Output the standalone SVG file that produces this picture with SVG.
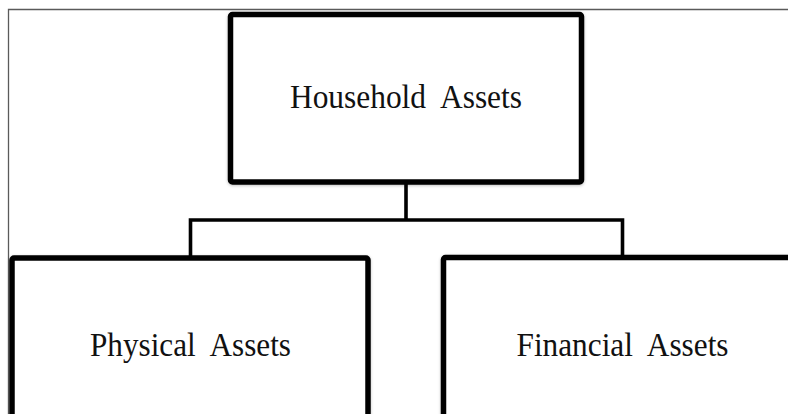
<svg xmlns="http://www.w3.org/2000/svg" width="788" height="414" viewBox="0 0 788 414">
<style>
.frame{fill:none;stroke:#5a5a5a;stroke-width:1.3}
.box{fill:#ffffff;stroke:#000000;stroke-width:5.5;stroke-linejoin:round;filter:url(#sh)}
.conn{fill:none;stroke:#000000;stroke-width:3.6;stroke-linejoin:miter}
.lbl{font-family:"Liberation Serif","Times New Roman",serif;font-size:34px;fill:#111111}
</style>
<defs>
<filter id="sh" x="-5%" y="-5%" width="110%" height="110%">
<feDropShadow dx="0" dy="1" stdDeviation="1.5" flood-color="#000000" flood-opacity="0.25"/>
</filter>
</defs>
<rect width="788" height="414" fill="#ffffff"/>
<path class="frame" d="M8.5,414 V9.5 H788"/>
<g id="connectors">
<path class="conn" d="M406,184 V220 M190.5,257 V220 H622.5 V257"/>
</g>
<g id="household">
<rect class="box" x="230.5" y="14.5" width="351" height="167.5" rx="2"/>
<text class="lbl" x="290" y="108.3" textLength="232" lengthAdjust="spacingAndGlyphs" xml:space="preserve">Household  Assets</text>
</g>
<g id="physical">
<rect class="box" x="12" y="258" width="356" height="180" rx="2"/>
<text class="lbl" x="90" y="356" textLength="201" lengthAdjust="spacingAndGlyphs" xml:space="preserve">Physical  Assets</text>
</g>
<g id="financial">
<rect class="box" x="443.5" y="257.5" width="360" height="180" rx="2"/>
<text class="lbl" x="516.5" y="356" textLength="212" lengthAdjust="spacingAndGlyphs" xml:space="preserve">Financial  Assets</text>
</g>
</svg>
